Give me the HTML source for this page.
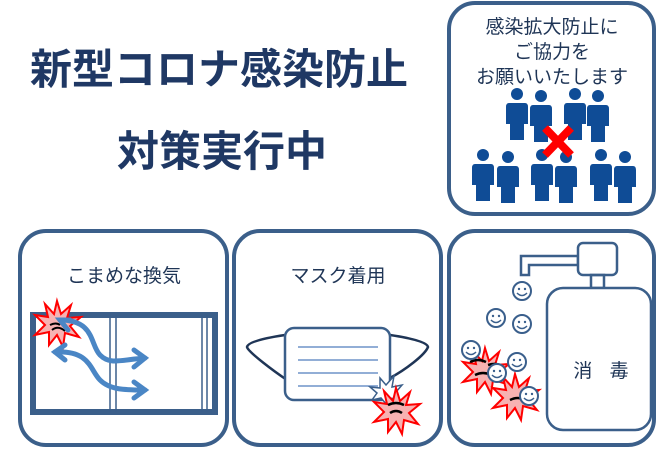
<!DOCTYPE html>
<html><head><meta charset="utf-8"><style>
body{margin:0;background:#fff;width:660px;height:448px;overflow:hidden}
svg text{font-family:"Liberation Sans","Noto Sans CJK JP",sans-serif;fill:#1f3556}
</style></head><body>
<svg width="660" height="448" viewBox="0 0 660 448" xmlns="http://www.w3.org/2000/svg">
<defs>
<g id="p"><circle cx="0" cy="0" r="6" fill="#0f4c96"/><path d="M-8,9 h16 q3,0 3,4 v17 h-4 v16 h-14 v-16 h-4 v-17 q0,-4 3,-4z" fill="#0f4c96"/></g>
<g id="s"><circle r="9" fill="#fff" stroke="#3a5f8c" stroke-width="2"/><circle cx="-3" cy="-2" r="1.2" fill="#3a5f8c"/><circle cx="3" cy="-2" r="1.2" fill="#3a5f8c"/><path d="M-5,2 q5,5 10,0" fill="none" stroke="#3a5f8c" stroke-width="1.5"/></g>
<polygon id="burst" points="0,-22 4,-9 14,-18 10,-5 24,-6 13,3 22,14 8,10 6,24 0,12 -8,22 -8,9 -22,12 -12,2 -22,-8 -9,-6 -12,-19 -3,-9" fill="#f7b2b2" stroke="#f00" stroke-width="2"/>
</defs>
<text x="219" y="84" font-size="42" font-weight="bold" text-anchor="middle" style="fill:#1f3864">新型コロナ感染防止</text>
<text x="222" y="166" font-size="42" font-weight="bold" text-anchor="middle" style="fill:#1f3864">対策実行中</text>
<rect x="449" y="3" width="205" height="211" rx="26" fill="none" stroke="#3b5f8a" stroke-width="4"/>
<text x="552" y="33" font-size="19" text-anchor="middle">感染拡大防止に</text>
<text x="552" y="58" font-size="19" text-anchor="middle">ご協力を</text>
<text x="552" y="83" font-size="19" text-anchor="middle">お願いいたします</text>
<use href="#p" x="517" y="94"/><use href="#p" x="541" y="96"/><use href="#p" x="575" y="94"/><use href="#p" x="598" y="96"/>
<use href="#p" x="483" y="155"/><use href="#p" x="508" y="157"/><use href="#p" x="542" y="155"/><use href="#p" x="566" y="157"/><use href="#p" x="601" y="155"/><use href="#p" x="625" y="157"/>
<path d="M545,128 L571,155 M571,128 L545,155" stroke="#f00" stroke-width="8"/>
<g fill="none" stroke="#3b5f8a" stroke-width="4">
<rect x="20" y="231" width="207" height="214" rx="26"/>
<rect x="234" y="231" width="207" height="214" rx="26"/>
<rect x="449" y="231" width="205" height="214" rx="26"/>
</g>
<text x="124" y="282" font-size="19" text-anchor="middle">こまめな換気</text>
<text x="338" y="282" font-size="19" text-anchor="middle">マスク着用</text>
<rect x="33" y="315" width="182" height="97" fill="none" stroke="#3b5f8a" stroke-width="6"/>
<g stroke="#3b5f8a" stroke-width="1.5"><line x1="110" y1="315" x2="110" y2="412"/><line x1="116" y1="315" x2="116" y2="412"/><line x1="202" y1="315" x2="202" y2="412"/><line x1="207" y1="315" x2="207" y2="412"/></g>
<use href="#burst" x="57" y="323"/>
<path d="M50,325 q6,-3 10,0 M52,330 q6,-5 13,1" stroke="#000" stroke-width="2" fill="none"/>
<g fill="none" stroke="#4a86c5" stroke-width="5" stroke-linecap="round">
<path d="M60,320 C95,320 90,345 100,355 C110,365 120,360 145,358"/>
<path d="M134,350 L145,358 L134,367"/>
<path d="M70,320 L60,320 L68,330"/>
<path d="M55,352 C90,350 90,370 100,380 C110,390 125,390 145,390"/>
<path d="M134,382 L145,390 L134,398"/>
<path d="M65,345 L55,352 L65,360"/>
</g>
<path d="M285,335 C265,338 248,342 247,347 C248,352 275,372 287,380" fill="none" stroke="#1f3556" stroke-width="2.5"/>
<path d="M390,335 C410,338 427,342 428,347 C425,355 405,370 390,378" fill="none" stroke="#1f3556" stroke-width="2.5"/>
<rect x="285" y="328" width="105" height="72" rx="9" fill="#fff" stroke="#3b5f8a" stroke-width="2.5"/>
<g stroke="#6f93c8" stroke-width="1.5"><line x1="298" y1="347" x2="378" y2="347"/><line x1="298" y1="360" x2="378" y2="360"/><line x1="298" y1="373" x2="378" y2="373"/><line x1="298" y1="386" x2="378" y2="386"/></g>
<polygon points="380,378 386,385 394,376 392,387 402,385 396,392 400,400 390,398 387,405 381,398 372,400 377,393 370,387 380,388" fill="#fff" stroke="#3b5f8a" stroke-width="1.5"/>
<use href="#burst" x="396" y="410"/>
<path d="M388,405 q8,-4 16,0 M390,413 q6,-4 12,0" stroke="#000" stroke-width="2.5" fill="none"/>
<g fill="none" stroke="#3b5f8a" stroke-width="2.5">
<path d="M521,275 v-19 h57 v9 h-49 v10z" fill="#fff"/>
<rect x="578" y="243" width="39" height="32" rx="5" fill="#fff"/>
<rect x="591" y="275" width="13" height="13"/>
<rect x="547" y="288" width="104" height="142" rx="16" fill="#fff"/>
</g>
<text x="604" y="377" font-size="19" text-anchor="middle" letter-spacing="6">消 毒</text>
<use href="#burst" x="485" y="370"/>
<use href="#burst" x="515" y="396"/>
<path d="M470,362 q8,-4 16,0 M475,375 q8,-4 16,0 M488,365 q10,-3 14,2 M510,400 q8,-4 14,0" stroke="#000" stroke-width="2.5" fill="none"/>
<use href="#s" x="522" y="291"/><use href="#s" x="496" y="318"/><use href="#s" x="522" y="324"/>
<use href="#s" x="471" y="350"/><use href="#s" x="517" y="362"/><use href="#s" x="497" y="373"/><use href="#s" x="529" y="396"/>
</svg>
</body></html>
